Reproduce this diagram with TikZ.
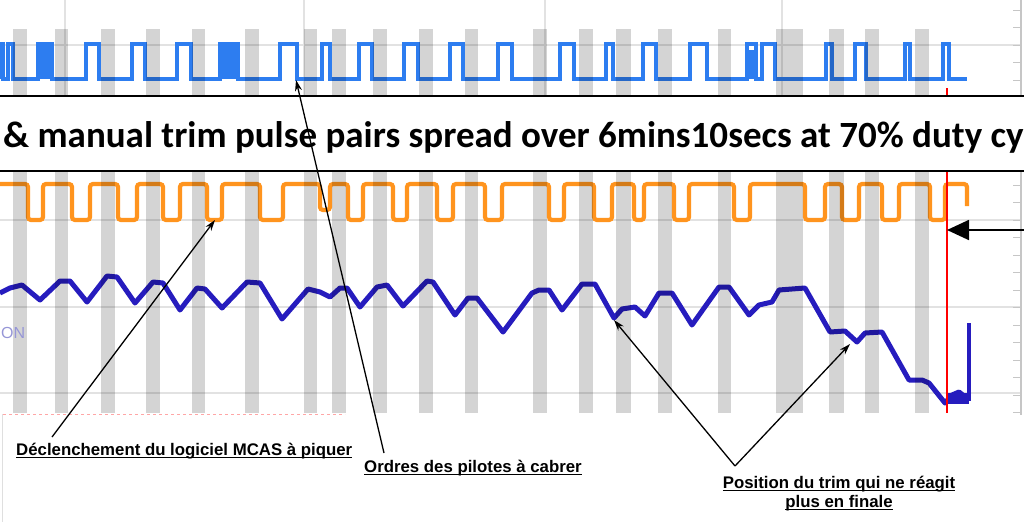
\documentclass[tikz,border=0pt]{standalone}
\usepackage{fontspec}
\setmainfont{Liberation Sans}
\newfontfamily\calib{Carlito}
\usetikzlibrary{arrows.meta}
\definecolor{sigblue}{RGB}{45,125,240}
\definecolor{sigorange}{RGB}{255,148,30}
\definecolor{trimblue}{RGB}{38,28,190}
\definecolor{gridgray}{RGB}{226,226,226}
\definecolor{ongray}{RGB}{150,150,215}
\newcommand\myul[1]{\setbox0\hbox{#1}\rlap{\rule[-2.6pt]{\wd0}{1.1pt}}\box0}
\tikzset{
  gridline/.style={gridgray, line width=1.2pt},
  bluesig/.style={sigblue, line width=3.8pt, line join=miter},
  orangesig/.style={sigorange, line width=4.2pt, rounded corners=3pt},
  trimline/.style={trimblue, line width=5pt, line join=round},
  barfill/.style={fill=black, fill opacity=0.17},
  annot/.style={black, line width=1.3pt, -{Stealth[length=11pt,width=7pt]}},
  lab/.style={font=\bfseries\fontsize{16.8}{19}\selectfont, inner sep=0pt},
}
\begin{document}
\begin{tikzpicture}[x=1pt,y=-1pt]
\useasboundingbox (0,0) rectangle (1024,530);
\fill[white] (0,0) rectangle (1024,530);
% grid
\foreach \gx in {65,304,545,782} \draw[gridline] (\gx,0) -- (\gx,96);
\foreach \gy in {45,220,307,393} \draw[gridline] (0,\gy) -- (1021,\gy);
% right axis
\draw[gray!45, line width=1.2pt] (1021,0) -- (1021,415);
\foreach \ty in {10,27.5,45,62.5,80,185,202.5,220,237.5,255,272.5,290,307.5,325,342.5,360,377.5,395,412.5}
  \draw[gray!45, line width=1pt] (1013,\ty) -- (1021,\ty);
% blue pulses
\draw[bluesig] (0,79) -- (0,44) -- (3,44) -- (3,79)
  \foreach \a/\b in {8/13,38/52,86/99,132/145,177/191,220/238,280/297,322/330,359/372,404/418,450/463,498/512,560/574,606/613,643/656,690/707,747/756,762/775,826/832,855/866,905/910,943/949}
  { -- (\a,79) -- (\a,44) -- (\b,44) -- (\b,79) } -- (967,79);
\fill[sigblue] (38,44) rectangle (52,79);
\fill[sigblue] (220,44) rectangle (238,79);
\fill[sigblue] (747,50) rectangle (756,79);
% orange dips
\draw[orangesig] (0,184)
  \foreach \a/\b/\c in {28/43/220,72/90/220,118/137/220,163/180/220,207/222/220,260/283/220,320/330/210,348/363/220,393/407/220,437/453/220,485/502/220,549/564/220,594/612/220,634/644/220,674/689/220,734/750/220,805/825/220,842/859/220,882/899/220,930/945/220}
  { -- (\a,184) -- (\a,\c) -- (\b,\c) -- (\b,184) } -- (967,184) -- (967,206);
% trim position
\draw[trimline] plot coordinates {(0,293) (10,288) (22,285) (40,300) (60,281) (70,281) (87,302) (107,276) (117,277) (135,303) (153,282) (163,283) (180,310) (197,288) (205,289) (222,308) (247,282) (260,283) (282,319) (308,289) (320,292) (330,297) (340,288) (347,288) (360,307) (377,287) (387,285) (403,306) (427,281) (433,282) (455,315) (468,298) (477,298) (503,332) (512,320) (532,293) (539,290) (549,290) (562,310) (582,284) (595,284) (614,318) (622,309) (635,307) (645,316) (659,293) (672,293) (692,325) (719,287) (729,287) (749,315) (759,305) (772,302) (779,290) (805,288) (830,332) (845,331) (857,342) (865,333) (882,332) (909,380) (922,380) (929,383) (945,403) (952,395) (959,392) (969,400)};
\draw[trimblue, line width=3.2pt] (969,401) -- (969,323);
\fill[trimblue] (948,393) rectangle (969,404);
% gray bars
\foreach \a/\b in {13/27,55/68,101/115,146/160,192/205,245/259,304/317,332/346,373/387,419/433,465/478,533/547,579/593,616/631,658/672,718/731,776/803,829/844,865/879,915/929}
{ \fill[barfill] (\a,29) rectangle (\b,95);
  \fill[barfill] (\a,172) rectangle (\b,413); }
% faint bottom-left traces
\draw[red!35, dashed, line width=1pt] (3,414) -- (345,414);
\draw[gray!25, line width=1pt] (2,414) -- (2,522);
\node[text=ongray, font=\fontsize{16}{18}\selectfont, anchor=base west, inner sep=0pt] (on) at (1,338) {ON};
% red cursor
\draw[red, line width=1.2pt] (947,88) -- (947,413);
% title band
\fill[white] (0,96) rectangle (1024,171);
\draw[black, line width=1.6pt] (0,96) -- (1024,96);
\draw[black, line width=1.6pt] (0,171) -- (1024,171);
\node[anchor=base west, inner sep=0pt, font=\calib\bfseries\fontsize{37}{40}\selectfont] (title) at (3,147) {\& manual trim pulse pairs spread over 6mins10secs at 70\% duty cy};
% right arrow
\coordinate (rs) at (1026,230);
\coordinate (re) at (947,230);
\draw[black, line width=1.8pt, -{Triangle[length=22pt,width=20pt]}] (rs) -- (re);
% labels
\node[lab, anchor=base west] (l1) at (16,455) {\myul{Déclenchement du logiciel MCAS à piquer}};
\node[lab, anchor=base west] (l2) at (364,472) {\myul{Ordres des pilotes à cabrer}};
\node[lab, anchor=base] (l3a) at (839,488) {\myul{Position du trim qui ne réagit}};
\node[lab, anchor=base] (l3b) at (839,507) {\myul{plus en finale}};
% annotation arrows
\coordinate (s1) at (52,437);
\coordinate (t1) at (215,220);
\coordinate (s2) at (384,453);
\coordinate (t2) at (296,80);
\coordinate (s3) at (735,466);
\coordinate (t3) at (614,320);
\coordinate (t4) at (850,344);
\draw[annot] (s1) -- (t1);
\draw[annot] (s2) -- (t2);
\draw[annot] (s3) -- (t3);
\draw[annot] (s3) -- (t4);
\end{tikzpicture}
\end{document}
